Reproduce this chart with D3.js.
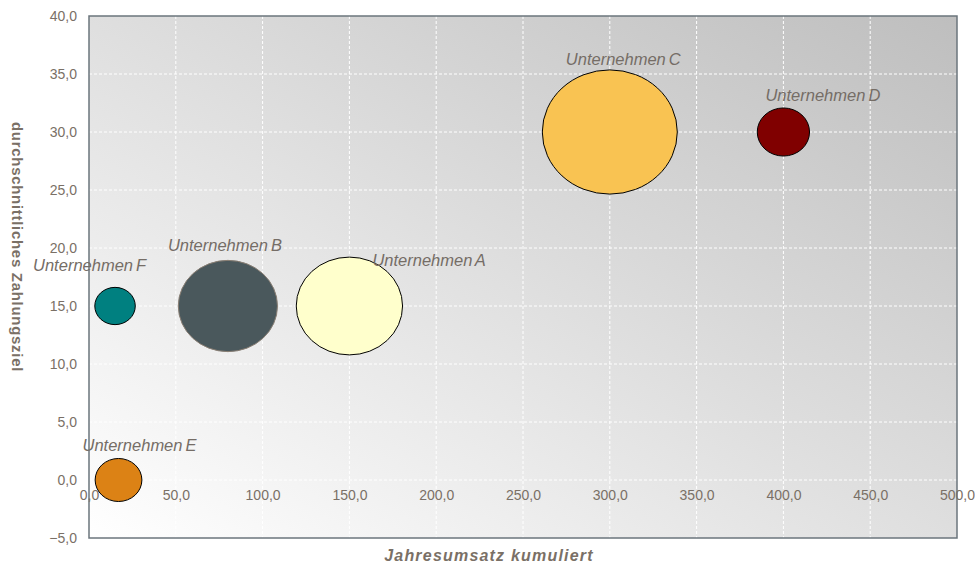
<!DOCTYPE html>
<html>
<head>
<meta charset="utf-8">
<script src="https://cdn.jsdelivr.net/npm/d3@7"></script>
<style>
  body { margin: 0; background: #fff; }
  text { font-family: Arial, "Liberation Sans", sans-serif; }
</style>
</head>
<body>
<div id="chart"></div>
<script>
// data
var companies = ["Unternehmen A", "Unternehmen B", "Unternehmen C", "Unternehmen D", "Unternehmen E", "Unternehmen F"];
var umsatz = [150, 80, 300, 400, 17, 15];        // Jahresumsatz kumuliert
var zahlungsziel = [15, 15, 30, 30, 0, 15];      // durchschnittliches Zahlungsziel
var bubbleSize = [62, 54, 100, 15, 12, 9];
var fills = ["#ffffcc", "#4a585c", "#f9c352", "#800000", "#dc8215", "#008080"];
var strokes = ["#000", "#8a7f74", "#000", "#000", "#000", "#000"];
var xTicks = [0, 50, 100, 150, 200, 250, 300, 350, 400, 450, 500];
var yTicks = [-5, 0, 5, 10, 15, 20, 25, 30, 35, 40];

var width = 975, height = 564;
var margin = {top: 16, right: 18, bottom: 26, left: 89};

var svg = d3.select("#chart").append("svg")
  .attr("width", width)
  .attr("height", height);

var x = d3.scaleLinear().domain([0, 500]).range([margin.left, width - margin.right]);
var y = d3.scaleLinear().domain([-5, 40]).range([height - margin.bottom, margin.top]);
var r = d3.scaleSqrt().domain([0, 100]).range([0, 67.5]);

// background gradient, light at bottom-left, darker at top-right
var defs = svg.append("defs");
var grad = defs.append("linearGradient")
  .attr("id", "bg")
  .attr("x1", "0%").attr("y1", "100%")
  .attr("x2", "100%").attr("y2", "0%");
grad.append("stop").attr("offset", "0%").attr("stop-color", "#ffffff");
grad.append("stop").attr("offset", "100%").attr("stop-color", "#bebebe");

svg.append("rect")
  .attr("x", x(0)).attr("y", y(40))
  .attr("width", x(500) - x(0)).attr("height", y(-5) - y(40))
  .attr("fill", "url(#bg)");

// grid
svg.append("g").selectAll("line")
  .data(xTicks.slice(1, -1))
  .enter().append("line")
    .attr("x1", function(d) { return x(d); })
    .attr("x2", function(d) { return x(d); })
    .attr("y1", y(40)).attr("y2", y(-5))
    .attr("stroke", "#fff")
    .attr("stroke-dasharray", "3,2");

svg.append("g").selectAll("line")
  .data(yTicks.slice(1, -1))
  .enter().append("line")
    .attr("y1", function(d) { return y(d); })
    .attr("y2", function(d) { return y(d); })
    .attr("x1", x(0)).attr("x2", x(500))
    .attr("stroke", "#fff")
    .attr("stroke-dasharray", "3,2");

// frame
svg.append("rect")
  .attr("x", x(0)).attr("y", y(40))
  .attr("width", x(500) - x(0)).attr("height", y(-5) - y(40))
  .attr("fill", "none")
  .attr("stroke", "#6b757c")
  .attr("stroke-width", 1.5);

// tick labels
var fmt = function(d) { return d3.format(".1f")(d).replace(".", ","); };

var xAxis = d3.axisBottom(x).tickValues(xTicks).tickFormat(fmt).tickSize(0).tickPadding(10);
var gx = svg.append("g")
  .attr("transform", "translate(0," + y(0) + ")")
  .call(xAxis);
gx.select(".domain").remove();
gx.selectAll("text")
  .attr("fill", "#7a7066")
  .style("font-size", "14px")
  .style("font-family", "Arial, 'Liberation Sans', sans-serif");

var yAxis = d3.axisLeft(y).tickValues(yTicks).tickFormat(fmt).tickSize(0).tickPadding(12);
var gy = svg.append("g")
  .attr("transform", "translate(" + x(0) + ",0)")
  .call(yAxis);
gy.select(".domain").remove();
gy.selectAll("text")
  .attr("fill", "#7a7066")
  .style("font-size", "14px")
  .style("font-family", "Arial, 'Liberation Sans', sans-serif");

// bubbles
var data = companies.map(function(c, i) {
  return {name: c, x: umsatz[i], y: zahlungsziel[i], s: bubbleSize[i], fill: fills[i], stroke: strokes[i]};
});

svg.append("g").selectAll("ellipse")
  .data(data)
  .enter().append("ellipse")
    .attr("cx", function(d) { return x(d.x); })
    .attr("cy", function(d) { return y(d.y); })
    .attr("rx", function(d) { return r(d.s); })
    .attr("ry", function(d) { return r(d.s) * 0.92; })
    .attr("fill", function(d) { return d.fill; })
    .attr("stroke", function(d) { return d.stroke; })
    .attr("stroke-width", 1);

// labels, placed by hand like in the original
var labelShift = [[23, -40], [-60, -55], [-44, -67], [-18, -31], [-36, -29], [-82, -35]];

svg.append("g").selectAll("text")
  .data(data)
  .enter().append("text")
    .attr("x", function(d, i) { return x(d.x) + labelShift[i][0]; })
    .attr("y", function(d, i) { return y(d.y) + labelShift[i][1]; })
    .attr("fill", "#756d66")
    .style("font-size", "16.5px")
    .style("font-style", "italic")
    .style("word-spacing", "-1.5px")
    .text(function(d) { return d.name; });

// axis titles
svg.append("text")
  .attr("x", 489).attr("y", 561)
  .attr("text-anchor", "middle")
  .attr("fill", "#7a7066")
  .style("font-size", "16px")
  .style("font-weight", "bold")
  .style("font-style", "italic")
  .style("letter-spacing", "1.2px")
  .text("Jahresumsatz kumuliert");

svg.append("text")
  .attr("transform", "translate(12,247) rotate(90)")
  .attr("text-anchor", "middle")
  .attr("fill", "#7a7066")
  .style("font-size", "15px")
  .style("font-weight", "bold")
  .style("letter-spacing", "0.7px")
  .text("durchschnittliches Zahlungsziel");
</script>
</body>
</html>
